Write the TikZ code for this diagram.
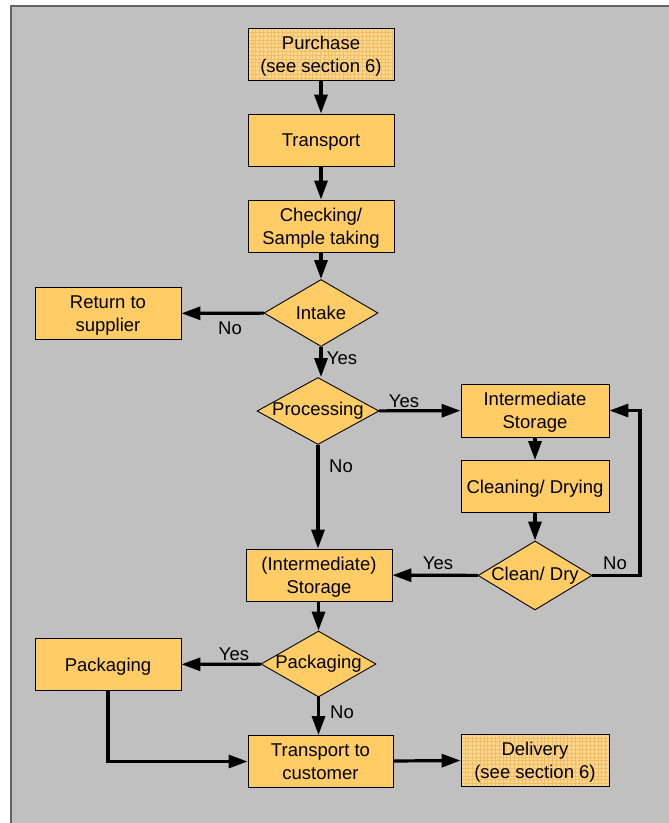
\documentclass[tikz,border=0pt]{standalone}
\usepackage{fontspec}
\setmainfont{Liberation Sans}
\usetikzlibrary{arrows.meta,shapes.geometric}
\definecolor{boxfill}{RGB}{255,204,102}
\definecolor{gridfill}{RGB}{250,214,148}
\definecolor{gridline}{RGB}{242,190,96}
\definecolor{panel}{RGB}{192,192,192}
\definecolor{frameline}{RGB}{100,100,100}
\begin{document}
\begin{tikzpicture}[x=1pt,y=-1pt,
  txt/.style={font=\fontsize{18.5}{23}\selectfont},
  box/.style={txt,draw=black,line width=0.9pt,fill=boxfill,minimum width=146pt,
    minimum height=52pt,align=center,inner sep=0pt,text depth=0pt},
  gridbox/.style={box,fill=gridfill,path picture={
    \foreach \k in {0,...,40}{
      \draw[gridline,line width=0.5pt]
        ([xshift=\k*3.8pt]path picture bounding box.north west) --
        ([xshift=\k*3.8pt]path picture bounding box.south west);
      \draw[gridline,line width=0.5pt]
        ([yshift=-\k*3.8pt]path picture bounding box.north west) --
        ([yshift=-\k*3.8pt]path picture bounding box.north east);}}},
  dec/.style={diamond,draw=black,line width=0.9pt,fill=boxfill,inner sep=0pt,
    minimum width=114pt,minimum height=67pt},
  flow/.style={line width=3.2pt,-{Triangle[length=19pt,width=13pt]}},
  lbl/.style={txt,inner sep=0pt}
]
\useasboundingbox (0,0) rectangle (669,823);
% panel
\fill[white] (0,0) rectangle (669,823);
\fill[panel] (11,6) rectangle (672,826);
\draw[frameline,line width=1.5pt] (11,826) -- (11,6) -- (672,6);

% boxes
\node[gridbox] (purchase) at (321,54.5) {Purchase\\(see section 6)};
\node[box] (transport) at (321,140) {Transport};
\node[box] (check) at (321,226) {Checking/\\Sample taking};
\node[dec,label={[txt]center:Intake}] (intake) at (321,313) {};
\node[box] (return) at (108,313.5) {Return to\\supplier};
\node[dec,minimum width=122pt,label={[txt]center:Processing}] (proc) at (318,411) {};
\node[box,minimum width=148pt,minimum height=53pt] (ist) at (535,410.5) {Intermediate\\Storage};
\node[box,minimum width=148pt] (clean) at (535,486.5) {Cleaning/ Drying};
\node[dec,minimum height=69pt,label={[txt]center:Clean/ Dry}] (cd) at (535,575.5) {};
\node[box] (stor) at (319,575) {(Intermediate)\\Storage};
\node[dec,minimum width=115pt,minimum height=66pt,label={[txt]center:Packaging}] (pdec) at (318.5,664) {};
\node[box] (pack) at (108,664.5) {Packaging};
\node[box,minimum width=145pt] (tcust) at (320.5,761.5) {Transport to\\customer};
\node[gridbox,minimum width=148pt] (deliv) at (535,760) {Delivery\\(see section 6)};

% connectors
\draw[flow] (purchase) -- (transport);
\draw[flow] (transport) -- (check);
\draw[flow] (check) -- (intake);
\draw[flow] (intake) -- (return);
\draw[flow] (intake.south) -- (intake.south |- proc.north);
\draw[flow] (proc) -- (ist);
\draw[flow] (proc.south) -- (proc.south |- stor.north);
\draw[flow] (ist.south) -- (ist.south |- clean.north);
\draw[flow] (clean.south) -- (clean.south |- cd.north);
\draw[flow] (cd) -- (stor);
\coordinate (loop) at (640,575.5);
\draw[flow] (cd.east) -- (loop) |- (ist.east);
\draw[flow] (stor.south -| pdec.north) -- (pdec.north);
\draw[flow] (pdec) -- (pack);
\draw[flow] (pdec.south) -- (pdec.south |- tcust.north);
\draw[flow] (pack.south) |- (tcust.west);
\draw[flow] (tcust) -- (deliv);

% branch labels
\node[lbl] at (230,328) {No};
\node[lbl] at (342,358) {Yes};
\node[lbl] at (404,401) {Yes};
\node[lbl] at (341,466) {No};
\node[lbl] at (438,563) {Yes};
\node[lbl] at (615,563) {No};
\node[lbl] at (234,654) {Yes};
\node[lbl] at (342,712) {No};
\end{tikzpicture}
\end{document}
